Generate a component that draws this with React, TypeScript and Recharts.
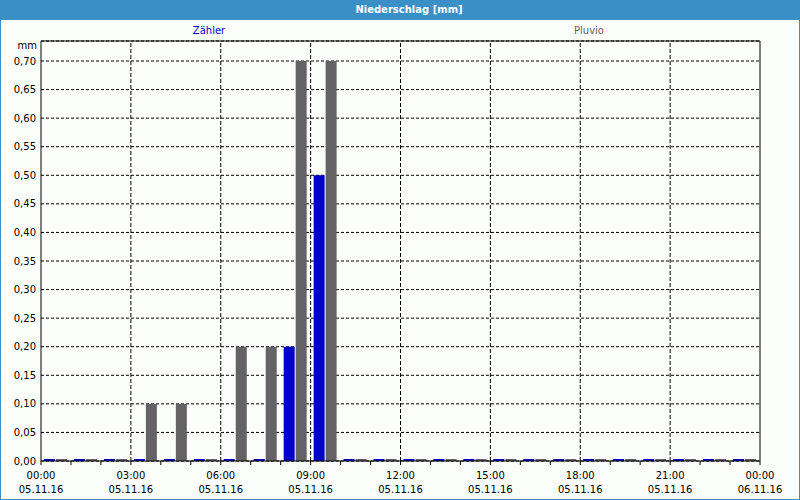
import {
  BarChart,
  Bar,
  XAxis,
  YAxis,
  CartesianGrid,
  ReferenceLine,
} from 'recharts';

const HOURS = [
  '00', '01', '02', '03', '04', '05', '06', '07', '08', '09', '10', '11',
  '12', '13', '14', '15', '16', '17', '18', '19', '20', '21', '22', '23',
];
const ZAEHLER = [0, 0, 0, 0, 0, 0, 0, 0, 0.2, 0.5, 0, 0, 0, 0, 0, 0, 0, 0, 0, 0, 0, 0, 0, 0];
const PLUVIO = [0, 0, 0, 0.1, 0.1, 0, 0.2, 0.2, 0.7, 0.7, 0, 0, 0, 0, 0, 0, 0, 0, 0, 0, 0, 0, 0, 0];

const Y_TICKS = [0, 0.05, 0.1, 0.15, 0.2, 0.25, 0.3, 0.35, 0.4, 0.45, 0.5, 0.55, 0.6, 0.65, 0.7];
const Y_MAX = 0.735;

const HOUR_TICKS = [0, 1, 2, 3, 4, 5, 6, 7, 8, 9, 10, 11, 12, 13, 14, 15, 16, 17, 18, 19, 20, 21, 22, 23, 24];
const LABEL_HOURS = [0, 3, 6, 9, 12, 15, 18, 21, 24];
const TIME_LABELS = ['00:00', '03:00', '06:00', '09:00', '12:00', '15:00', '18:00', '21:00', '00:00'];
const DATE_LABELS = ['05.11.16', '05.11.16', '05.11.16', '05.11.16', '05.11.16', '05.11.16', '05.11.16', '05.11.16', '06.11.16'];
const GRID_HOURS = [3, 6, 9, 12, 15, 18, 21];

const BLUE = '#0000c8';
const GREY = '#646264';
const FONT = '"DejaVu Sans", Verdana, sans-serif';

// t = middle of the hour, used only by the numeric time axis
const data = HOURS.map((h, i) => ({ hour: h, t: Number(h) + 0.5, zaehler: ZAEHLER[i], pluvio: PLUVIO[i] }));

const fmtY = (v: number) => v.toFixed(2).replace('.', ',');

const TimeTick = ({ x, y, payload }: any) => {
  const i = LABEL_HOURS.indexOf(payload.value);
  if (i < 0) return <g />;
  return (
    <text x={x} y={y} textAnchor="middle" fontSize={10} fontFamily={FONT} fill="#000">
      <tspan x={x} dy={12}>{TIME_LABELS[i]}</tspan>
      <tspan x={x} dy={14}>{DATE_LABELS[i]}</tspan>
    </text>
  );
};

export default function App() {
  return (
    <div
      style={{
        position: 'fixed',
        left: 0,
        top: 0,
        width: 800,
        height: 500,
        boxSizing: 'border-box',
        background: '#fcfefc',
        borderLeft: '1px solid #3b8fc7',
        borderRight: '1px solid #3b8fc7',
        borderBottom: '1px solid #3b8fc7',
        fontFamily: FONT,
      }}
    >
      <div
        style={{
          position: 'absolute',
          left: -1,
          top: 0,
          width: 800,
          height: 20,
          background: '#3b8fc7',
          color: '#fff',
          fontWeight: 'bold',
          fontSize: 10,
          lineHeight: '20px',
          textAlign: 'center',
          paddingLeft: 18,
          boxSizing: 'border-box',
        }}
      >
        Niederschlag [mm]
      </div>
      <div style={{ position: 'absolute', left: 18, top: 25, width: 380, textAlign: 'center', fontSize: 10, color: BLUE }}>
        Zähler
      </div>
      <div style={{ position: 'absolute', left: 398, top: 25, width: 380, textAlign: 'center', fontSize: 10, color: GREY }}>
        Pluvio
      </div>
      <div style={{ position: 'absolute', left: 0, top: 40, width: 36, textAlign: 'right', fontSize: 10, color: '#000' }}>
        mm
      </div>

      <div style={{ position: 'absolute', left: -1, top: 0 }}>
        <BarChart
          width={800}
          height={500}
          data={data}
          margin={{ top: 41, right: 40, left: 0, bottom: 0 }}
          barSize={11}
          barGap={1}
        >
          <CartesianGrid
            xAxisId="t"
            vertical={false}
            stroke="#000"
            strokeDasharray="3 2"
          />
          <XAxis
            xAxisId="t"
            dataKey="t"
            type="number"
            domain={[0, 24]}
            allowDataOverflow
            ticks={HOUR_TICKS}
            interval={0}
            height={39}
            tickSize={4}
            tickMargin={2}
            stroke="#000"
            axisLine={{ stroke: '#000' }}
            tickLine={{ stroke: '#000' }}
            tick={<TimeTick />}
          />
          <XAxis xAxisId="cat" dataKey="hour" hide height={0} />
          <YAxis
            domain={[0, Y_MAX]}
            allowDataOverflow
            ticks={Y_TICKS}
            interval={0}
            width={41}
            tickSize={0}
            tickMargin={5}
            tickFormatter={fmtY}
            axisLine={{ stroke: '#000' }}
            tick={{ fontSize: 10, fontFamily: FONT, fill: '#000' }}
          />
          {GRID_HOURS.map((h) => (
            <ReferenceLine key={h} xAxisId="t" x={h} stroke="#000" strokeDasharray="4 2" />
          ))}
          <ReferenceLine xAxisId="t" x={24} stroke="#000" />
          <ReferenceLine xAxisId="t" y={Y_MAX} stroke="#000" />
          <Bar xAxisId="cat" dataKey="zaehler" fill={BLUE} minPointSize={2} isAnimationActive={false} />
          <Bar xAxisId="cat" dataKey="pluvio" fill={GREY} minPointSize={2} isAnimationActive={false} />
        </BarChart>
      </div>
    </div>
  );
}
